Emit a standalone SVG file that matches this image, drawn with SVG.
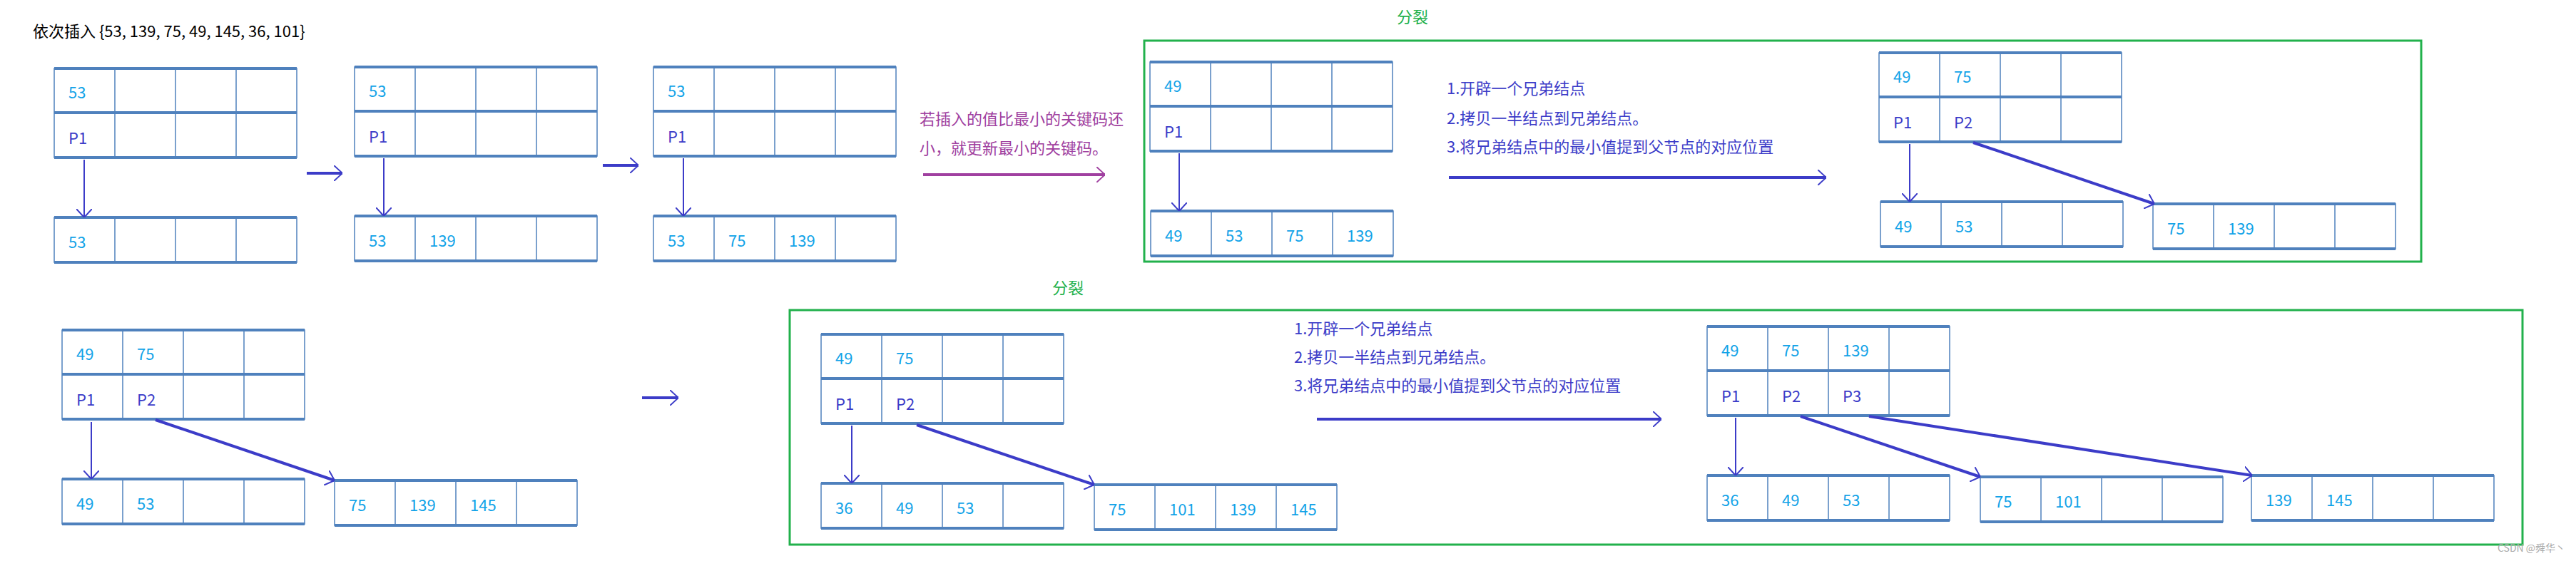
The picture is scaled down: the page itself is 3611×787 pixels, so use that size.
<svg xmlns="http://www.w3.org/2000/svg" xmlns:xlink="http://www.w3.org/1999/xlink" width="3611" height="787" viewBox="0 0 3611 787">
<style>
text{font-family:"Noto Sans CJK SC","Liberation Sans",sans-serif;font-size:22px}
.n{fill:#12a3e8}
.p{fill:#3c3cc8}
.s{fill:#3c3cc8}
.pu{fill:#a040a0}
.g{fill:#22b14c}
.cell{fill:none;stroke:#4f81bd;stroke-width:1.5}
.hb{stroke:#4f81bd;stroke-width:4}
.ln{stroke:#3c3cc8;stroke-width:2;fill:none}
.lnb{stroke:#3c3cc8;stroke-width:4;fill:none}
.box{fill:none;stroke:#22b14c;stroke-width:3}
</style>
<defs>
<marker id="ah" viewBox="0 0 12 22" markerWidth="12" markerHeight="22" refX="12" refY="11" orient="auto" markerUnits="userSpaceOnUse"><path d="M0,0 L12,11 L0,22" fill="none" stroke="#3c3cc8" stroke-width="2"/></marker>
<marker id="ahp" viewBox="0 0 12 22" markerWidth="12" markerHeight="22" refX="12" refY="11" orient="auto" markerUnits="userSpaceOnUse"><path d="M0,0 L12,11 L0,22" fill="none" stroke="#a040a0" stroke-width="2"/></marker>
<g id="t2"><rect class="cell" x="0" y="0" width="340" height="125"/><path class="cell" d="M85,0V125M170,0V125M255,0V125"/><path class="hb" d="M0,0H340M0,62H340M0,125H340"/></g>
<g id="t1"><rect class="cell" x="0" y="0" width="340" height="63"/><path class="cell" d="M85,0V63M170,0V63M255,0V63"/><path class="hb" d="M0,0H340M0,63H340"/></g>
</defs>
<rect width="3611" height="787" fill="#fff"/>
<text x="46" y="52" fill="#000">依次插入 {53, 139, 75, 49, 145, 36, 101}</text>
<rect class="box" x="1604" y="57" width="1790" height="310"/>
<rect class="box" x="1107" y="435" width="2429" height="329"/>
<text class="g" x="1958" y="32">分裂</text>
<text class="g" x="1475" y="412">分裂</text>
<text class="pu" x="1289" y="175">若插入的值比最小的关键码还</text>
<text class="pu" x="1289" y="216">小，就更新最小的关键码。</text>
<g id="steps1" class="s"><text class="s" x="2028" y="132">1.开辟一个兄弟结点</text><text class="s" x="2028" y="174">2.拷贝一半结点到兄弟结点。</text><text class="s" x="2028" y="214">3.将兄弟结点中的最小值提到父节点的对应位置</text></g>
<g id="steps2" class="s"><text class="s" x="1814" y="469">1.开辟一个兄弟结点</text><text class="s" x="1814" y="509">2.拷贝一半结点到兄弟结点。</text><text class="s" x="1814" y="549">3.将兄弟结点中的最小值提到父节点的对应位置</text></g>

<g id="n1"><use xlink:href="#t2" x="76" y="96"/><text class="n" x="96" y="138">53</text><text class="p" x="96" y="202">P1</text></g>
<g id="n1l"><use xlink:href="#t1" x="76" y="305"/><text class="n" x="96" y="348">53</text></g>
<g id="n2"><use xlink:href="#t2" x="497" y="94"/><text class="n" x="517" y="136">53</text><text class="p" x="517" y="200">P1</text></g>
<g id="n2l"><use xlink:href="#t1" x="497" y="303"/><text class="n" x="517" y="346">53</text><text class="n" x="602" y="346">139</text></g>
<g id="n3"><use xlink:href="#t2" x="916" y="94"/><text class="n" x="936" y="136">53</text><text class="p" x="936" y="200">P1</text></g>
<g id="n3l"><use xlink:href="#t1" x="916" y="303"/><text class="n" x="936" y="346">53</text><text class="n" x="1021" y="346">75</text><text class="n" x="1106" y="346">139</text></g>
<g id="nA"><use xlink:href="#t2" x="1612" y="87"/><text class="n" x="1632" y="129">49</text><text class="p" x="1632" y="193">P1</text></g>
<g id="nAl"><use xlink:href="#t1" x="1613" y="296"/><text class="n" x="1633" y="339">49</text><text class="n" x="1718" y="339">53</text><text class="n" x="1803" y="339">75</text><text class="n" x="1888" y="339">139</text></g>
<g id="nB"><use xlink:href="#t2" x="2634" y="74"/><text class="n" x="2654" y="116">49</text><text class="n" x="2739" y="116">75</text><text class="p" x="2654" y="180">P1</text><text class="p" x="2739" y="180">P2</text></g>
<g id="nBl1"><use xlink:href="#t1" x="2636" y="283"/><text class="n" x="2656" y="326">49</text><text class="n" x="2741" y="326">53</text></g>
<g id="nBl2"><use xlink:href="#t1" x="3018" y="286"/><text class="n" x="3038" y="329">75</text><text class="n" x="3123" y="329">139</text></g>
<g id="nC"><use xlink:href="#t2" x="87" y="463"/><text class="n" x="107" y="505">49</text><text class="n" x="192" y="505">75</text><text class="p" x="107" y="569">P1</text><text class="p" x="192" y="569">P2</text></g>
<g id="nCl1"><use xlink:href="#t1" x="87" y="672"/><text class="n" x="107" y="715">49</text><text class="n" x="192" y="715">53</text></g>
<g id="nCl2"><use xlink:href="#t1" x="469" y="674"/><text class="n" x="489" y="717">75</text><text class="n" x="574" y="717">139</text><text class="n" x="659" y="717">145</text></g>
<g id="nD"><use xlink:href="#t2" x="1151" y="469"/><text class="n" x="1171" y="511">49</text><text class="n" x="1256" y="511">75</text><text class="p" x="1171" y="575">P1</text><text class="p" x="1256" y="575">P2</text></g>
<g id="nDl1"><use xlink:href="#t1" x="1151" y="678"/><text class="n" x="1171" y="721">36</text><text class="n" x="1256" y="721">49</text><text class="n" x="1341" y="721">53</text></g>
<g id="nDl2"><use xlink:href="#t1" x="1534" y="680"/><text class="n" x="1554" y="723">75</text><text class="n" x="1639" y="723">101</text><text class="n" x="1724" y="723">139</text><text class="n" x="1809" y="723">145</text></g>
<g id="nE"><use xlink:href="#t2" x="2393" y="458"/><text class="n" x="2413" y="500">49</text><text class="n" x="2498" y="500">75</text><text class="n" x="2583" y="500">139</text><text class="p" x="2413" y="564">P1</text><text class="p" x="2498" y="564">P2</text><text class="p" x="2583" y="564">P3</text></g>
<g id="nEl1"><use xlink:href="#t1" x="2393" y="667"/><text class="n" x="2413" y="710">36</text><text class="n" x="2498" y="710">49</text><text class="n" x="2583" y="710">53</text></g>
<g id="nEl2"><use xlink:href="#t1" x="2776" y="669"/><text class="n" x="2796" y="712">75</text><text class="n" x="2881" y="712">101</text></g>
<g id="nEl3"><use xlink:href="#t1" x="3156" y="667"/><text class="n" x="3176" y="710">139</text><text class="n" x="3261" y="710">145</text></g>

<g id="connectors">
<path class="ln" marker-end="url(#ah)" d="M118,224V305"/>
<path class="ln" marker-end="url(#ah)" d="M538,222V303"/>
<path class="ln" marker-end="url(#ah)" d="M958,222V303"/>
<path class="lnb" marker-end="url(#ah)" d="M430,243H480"/>
<path class="lnb" marker-end="url(#ah)" d="M845,232H895"/>
<path stroke="#a040a0" stroke-width="4" fill="none" marker-end="url(#ahp)" d="M1294,245H1549"/>
<path class="ln" marker-end="url(#ah)" d="M1653,215V296"/>
<path class="lnb" marker-end="url(#ah)" d="M2031,249H2560"/>
<path class="ln" marker-end="url(#ah)" d="M2677,202V283"/>
<path class="lnb" marker-end="url(#ah)" d="M2766,200L3020,286"/>
<path class="ln" marker-end="url(#ah)" d="M128,592V672"/>
<path class="lnb" marker-end="url(#ah)" d="M218,589L469,674"/>
<path class="lnb" marker-end="url(#ah)" d="M900,558H951"/>
<path class="ln" marker-end="url(#ah)" d="M1194,597V678"/>
<path class="lnb" marker-end="url(#ah)" d="M1285,596L1534,680"/>
<path class="lnb" marker-end="url(#ah)" d="M1846,588H2329"/>
<path class="ln" marker-end="url(#ah)" d="M2433,586V667"/>
<path class="lnb" marker-end="url(#ah)" d="M2524,584L2776,669"/>
<path class="lnb" marker-end="url(#ah)" d="M2620,584L3157,667"/>
</g>
<text x="3501" y="774" fill="#aaa" style="font-size:14px">CSDN @舜华丶</text>
</svg>
